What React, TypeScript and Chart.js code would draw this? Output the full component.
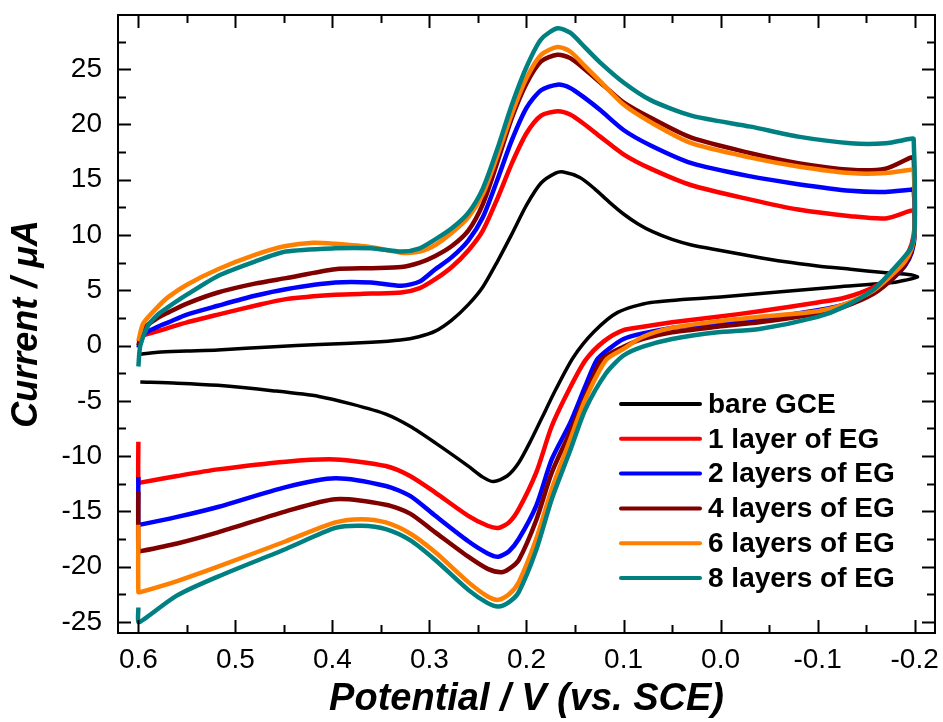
import React, { useEffect, useRef } from "react";
import { Chart, registerables } from "chart.js";

Chart.register(...registerables);

type Pt = [number, number];

const seriesLabels = ["bare GCE", "1 layer of EG", "2 layers of EG", "4 layers of EG", "6 layers of EG", "8 layers of EG"];
const seriesColors = ["#000000", "#FF0000", "#0000FF", "#800000", "#FF8000", "#008080"];

const bareGCE: Pt[] = [
  [0.6, -0.8], [0.58, -0.6], [0.55, -0.5], [0.518, -0.4], [0.46, -0.1], [0.414, 0.1], [0.36, 0.3], [0.33, 0.5],
  [0.311, 0.8], [0.294, 1.3], [0.277, 2.3], [0.26, 3.7], [0.245, 5.3], [0.23, 7.6], [0.215, 10.1], [0.2, 12.7],
  [0.185, 14.7], [0.17, 15.6], [0.162, 15.7], [0.145, 15.2], [0.13, 14.2], [0.115, 13.0], [0.1, 11.9], [0.085, 11.0],
  [0.07, 10.3], [0.05, 9.6], [0.03, 9.1], [0.0, 8.6], [-0.031, 8.1], [-0.065, 7.6], [-0.1, 7.2], [-0.134, 6.9],
  [-0.168, 6.6], [-0.196, 6.4], [-0.203, 6.2],
  [-0.19, 5.9], [-0.178, 5.7], [-0.12, 5.3], [-0.065, 4.9], [0.0, 4.4], [0.072, 3.9], [0.106, 3.0], [0.131, 1.2],
  [0.152, -1.1], [0.17, -4.0], [0.18, -5.8], [0.195, -8.5], [0.208, -10.6], [0.22, -11.8], [0.234, -12.3],
  [0.245, -11.9], [0.26, -10.9], [0.294, -8.8], [0.32, -7.3], [0.345, -6.2], [0.38, -5.3], [0.414, -4.6],
  [0.46, -4.1], [0.518, -3.6], [0.56, -3.4], [0.598, -3.3],
];

const layer1: Pt[] = [
  [0.6, 0.3], [0.595, 0.9], [0.58, 1.3], [0.569, 1.6], [0.55, 2.1], [0.518, 2.8], [0.48, 3.6], [0.448, 4.2],
  [0.397, 4.6], [0.36, 4.7], [0.329, 4.8], [0.31, 5.2], [0.294, 6.0], [0.277, 7.1], [0.26, 8.6], [0.245, 10.4],
  [0.23, 13.3], [0.215, 16.5], [0.2, 19.2], [0.185, 20.8], [0.168, 21.2], [0.155, 20.9], [0.14, 20.0],
  [0.124, 18.9], [0.1, 17.3], [0.072, 16.0], [0.03, 14.5], [-0.031, 13.2], [-0.08, 12.3], [-0.134, 11.7],
  [-0.17, 11.5], [-0.196, 12.2], [-0.199, 12.2], [-0.2, 10.8],
  [-0.197, 9.2], [-0.19, 7.9], [-0.178, 6.6], [-0.158, 5.3], [-0.127, 4.3], [-0.1, 3.9], [-0.04, 3.1],
  [0.003, 2.6], [0.05, 2.1], [0.08, 1.7], [0.1, 1.4], [0.12, 0.4], [0.139, -1.3], [0.155, -3.8], [0.174, -7.3],
  [0.19, -11.5], [0.208, -14.8], [0.218, -16.0], [0.229, -16.5], [0.24, -16.3], [0.26, -15.4], [0.294, -13.3],
  [0.32, -11.8], [0.345, -10.9], [0.397, -10.3], [0.448, -10.5], [0.518, -11.2], [0.56, -11.8], [0.598, -12.4],
  [0.6, -12.4], [0.6, -8.7],
];

const layer2: Pt[] = [
  [0.6, -0.2], [0.595, 1.0], [0.58, 1.7], [0.569, 2.1], [0.55, 2.8], [0.518, 3.6], [0.48, 4.5], [0.448, 5.1],
  [0.397, 5.7], [0.36, 5.7], [0.329, 5.4], [0.31, 5.8], [0.294, 6.9], [0.277, 8.0], [0.26, 9.5], [0.245, 11.6],
  [0.23, 15.0], [0.215, 18.6], [0.2, 21.5], [0.185, 23.1], [0.168, 23.6], [0.155, 23.3], [0.14, 22.4],
  [0.124, 21.3], [0.1, 19.5], [0.072, 18.1], [0.03, 16.5], [-0.031, 15.3], [-0.08, 14.6], [-0.134, 14.0],
  [-0.17, 13.9], [-0.196, 14.1], [-0.199, 14.1], [-0.2, 10.0],
  [-0.197, 8.4], [-0.19, 7.2], [-0.178, 6.1], [-0.158, 4.8], [-0.127, 3.7], [-0.1, 3.2], [-0.04, 2.4],
  [0.003, 2.0], [0.05, 1.6], [0.08, 1.1], [0.1, 0.6], [0.115, -0.3], [0.1275, -1.3], [0.1395, -3.7], [0.155, -7.0],
  [0.174, -10.3], [0.19, -14.5], [0.208, -17.5], [0.218, -18.6], [0.229, -19.1], [0.24, -18.8], [0.26, -17.7],
  [0.294, -15.4], [0.32, -13.6], [0.345, -12.7], [0.397, -12.0], [0.448, -12.8], [0.518, -14.6], [0.56, -15.5],
  [0.598, -16.2], [0.6, -16.2], [0.6, -11.9],
];

const layer4: Pt[] = [
  [0.6, 0.0], [0.595, 1.5], [0.58, 2.5], [0.569, 3.0], [0.55, 3.8], [0.518, 4.8], [0.48, 5.6], [0.448, 6.1],
  [0.397, 6.9], [0.36, 7.0], [0.329, 7.1], [0.31, 7.5], [0.294, 8.1], [0.277, 9.0], [0.26, 10.4], [0.245, 12.8],
  [0.23, 16.6], [0.215, 20.6], [0.2, 23.7], [0.185, 25.7], [0.168, 26.3], [0.155, 26.0], [0.14, 25.0],
  [0.124, 23.8], [0.1, 22.0], [0.072, 20.6], [0.03, 18.8], [-0.031, 17.4], [-0.08, 16.5], [-0.134, 15.9],
  [-0.17, 16.0], [-0.196, 17.0], [-0.199, 17.0], [-0.2, 10.2],
  [-0.197, 8.6], [-0.19, 7.3], [-0.178, 6.1], [-0.158, 4.7], [-0.127, 3.5], [-0.1, 2.9], [-0.04, 2.1],
  [0.003, 1.7], [0.05, 1.2], [0.08, 0.6], [0.1, -0.1], [0.1227, -1.3], [0.1395, -4.6], [0.155, -7.8],
  [0.174, -11.5], [0.19, -15.8], [0.208, -19.4], [0.218, -20.2], [0.226, -20.5], [0.24, -20.2], [0.26, -19.1],
  [0.294, -16.9], [0.32, -15.2], [0.345, -14.4], [0.397, -13.9], [0.448, -15.0], [0.518, -16.9], [0.56, -17.9],
  [0.598, -18.6], [0.6, -18.6], [0.6, -13.2],
];

const layer6: Pt[] = [
  [0.6, 0.4], [0.595, 2.0], [0.58, 3.5], [0.569, 4.4], [0.55, 5.5], [0.518, 6.9], [0.48, 8.2], [0.448, 9.0],
  [0.42, 9.3], [0.397, 9.2], [0.36, 8.9], [0.329, 8.4], [0.31, 8.5], [0.294, 9.1], [0.277, 10.2], [0.26, 11.6],
  [0.245, 13.7], [0.23, 17.2], [0.215, 21.0], [0.2, 24.2], [0.185, 26.3], [0.168, 27.0], [0.155, 26.6],
  [0.14, 25.3], [0.124, 23.9], [0.1, 21.8], [0.072, 20.2], [0.03, 18.3], [-0.031, 17.0], [-0.08, 16.2],
  [-0.134, 15.6], [-0.17, 15.6], [-0.196, 15.9], [-0.199, 15.9], [-0.2, 10.4],
  [-0.197, 8.8], [-0.19, 7.6], [-0.178, 6.5], [-0.158, 5.0], [-0.127, 3.7], [-0.1, 3.1], [-0.04, 2.6],
  [0.003, 2.2], [0.05, 1.6], [0.08, 0.8], [0.1, -0.3], [0.118, -1.3], [0.1395, -4.9], [0.155, -8.5],
  [0.174, -13.0], [0.19, -17.5], [0.208, -21.4], [0.218, -22.5], [0.229, -23.0], [0.24, -22.7], [0.26, -21.4],
  [0.294, -18.7], [0.32, -17.0], [0.345, -16.0], [0.37, -15.7], [0.397, -16.0], [0.448, -17.7], [0.518, -20.0],
  [0.56, -21.3], [0.598, -22.3], [0.6, -22.3], [0.6, -16.2],
];

const layer8: Pt[] = [
  [0.6, -1.9], [0.598, 0.0], [0.59, 1.8], [0.58, 2.8], [0.569, 3.5], [0.55, 4.6], [0.518, 6.3], [0.48, 7.6],
  [0.448, 8.5], [0.397, 8.8], [0.36, 8.8], [0.329, 8.5], [0.31, 8.8], [0.294, 9.6], [0.277, 10.6], [0.26, 12.0],
  [0.245, 14.2], [0.23, 17.8], [0.215, 21.8], [0.2, 25.2], [0.185, 27.7], [0.168, 28.7], [0.155, 28.3],
  [0.14, 27.0], [0.124, 25.6], [0.1, 23.8], [0.072, 22.2], [0.03, 20.8], [-0.031, 19.8], [-0.08, 18.9],
  [-0.134, 18.3], [-0.17, 18.3], [-0.196, 18.7], [-0.199, 18.7], [-0.2, 10.5],
  [-0.197, 9.0], [-0.193, 8.4], [-0.178, 6.9], [-0.158, 5.1], [-0.127, 3.5], [-0.1, 2.6], [-0.04, 1.5],
  [0.003, 1.2], [0.05, 0.6], [0.08, -0.1], [0.1, -0.9], [0.118, -2.5], [0.1395, -5.8], [0.155, -9.5],
  [0.174, -13.9], [0.19, -18.5], [0.208, -22.3], [0.218, -23.2], [0.229, -23.6], [0.24, -23.3], [0.26, -22.1],
  [0.294, -19.4], [0.32, -17.6], [0.345, -16.6], [0.37, -16.3], [0.397, -16.5], [0.448, -18.4], [0.518, -20.9],
  [0.56, -22.6], [0.595, -24.8], [0.6, -25.0], [0.6, -23.7],
];

const seriesData: Pt[][] = [bareGCE, layer1, layer2, layer4, layer6, layer8];

const xTickValues = [0.6, 0.5, 0.4, 0.3, 0.2, 0.1, 0.0, -0.1, -0.2];
const xMinorTickValues = [0.55, 0.45, 0.35, 0.25, 0.15, 0.05, -0.05, -0.15];
const yTickValues = [-25, -20, -15, -10, -5, 0, 5, 10, 15, 20, 25];
const yMinorTickValues = [-22.5, -17.5, -12.5, -7.5, -2.5, 2.5, 7.5, 12.5, 17.5, 22.5, 27.5];

const FONT = "'Liberation Sans', Arial, sans-serif";

const framePlugin = {
  id: "frameTicks",
  afterDatasetsDraw(chart: any) {
    const { ctx, chartArea, scales } = chart;
    const { left, right, top, bottom } = chartArea;
    const xs = scales.x;
    const ys = scales.y;
    ctx.save();
    ctx.strokeStyle = "#000";
    ctx.lineWidth = 2;
    ctx.strokeRect(left, top, right - left, bottom - top);
    const drawX = (vals: number[], len: number) => {
      vals.forEach((v) => {
        const px = Math.round(xs.getPixelForValue(v)) + 0.5;
        ctx.beginPath();
        ctx.moveTo(px, bottom);
        ctx.lineTo(px, bottom - len);
        ctx.moveTo(px, top);
        ctx.lineTo(px, top + len);
        ctx.stroke();
      });
    };
    const drawY = (vals: number[], len: number) => {
      vals.forEach((v) => {
        const py = Math.round(ys.getPixelForValue(v)) + 0.5;
        ctx.beginPath();
        ctx.moveTo(left, py);
        ctx.lineTo(left + len, py);
        ctx.moveTo(right, py);
        ctx.lineTo(right - len, py);
        ctx.stroke();
      });
    };
    drawX(xTickValues, 13);
    drawX(xMinorTickValues, 8);
    drawY(yTickValues, 13);
    drawY(yMinorTickValues, 8);
    ctx.restore();
  },
  afterDraw(chart: any) {
    const { ctx, chartArea } = chart;
    const x0 = chartArea.right - 314;
    const x1 = chartArea.right - 235;
    const tx = chartArea.right - 227;
    const y0 = chartArea.top + 389;
    const step = 34.8;
    ctx.save();
    ctx.font = `bold 28px ${FONT}`;
    ctx.textBaseline = "middle";
    ctx.textAlign = "left";
    chart.data.datasets.forEach((ds: any, i: number) => {
      const y = y0 + i * step;
      ctx.strokeStyle = ds.borderColor;
      ctx.lineWidth = 4;
      ctx.lineCap = "round";
      ctx.beginPath();
      ctx.moveTo(x0, y);
      ctx.lineTo(x1, y);
      ctx.stroke();
      ctx.fillStyle = "#000";
      ctx.fillText(ds.label, tx, y + 1);
    });
    ctx.restore();
  },
};

export default function App() {
  const canvasRef = useRef<HTMLCanvasElement | null>(null);

  useEffect(() => {
    if (!canvasRef.current) return;
    const datasets = seriesData.map((pts, i) => ({
      label: seriesLabels[i],
      data: pts.map(([x, y]) => ({ x, y })),
      borderColor: seriesColors[i],
      backgroundColor: seriesColors[i],
      borderWidth: i === 0 ? 3.5 : 4.5,
      showLine: true,
      pointRadius: 0,
      tension: 0.25,
      fill: false,
      order: seriesData.length - i,
    }));
    const chart = new Chart(canvasRef.current, {
      type: "scatter",
      data: { datasets },
      options: {
        animation: false,
        responsive: false,
        devicePixelRatio: 1,
        layout: { padding: { left: 0, top: 15, right: 8, bottom: 0 } },
        plugins: { legend: { display: false }, tooltip: { enabled: false } },
        scales: {
          x: {
            type: "linear",
            reverse: true,
            min: -0.221,
            max: 0.621,
            afterBuildTicks: (s: any) => {
              s.ticks = xTickValues.map((v) => ({ value: v }));
            },
            afterFit: (s: any) => {
              s.height = 89;
              s.paddingLeft = 0;
              s.paddingRight = 0;
              s.paddingTop = 0;
              s.paddingBottom = 0;
            },
            ticks: {
              callback: (v: any) => Number(v).toFixed(1),
              color: "#000",
              font: { family: FONT, size: 28 },
              padding: 10,
              maxRotation: 0,
              autoSkip: false,
            },
            grid: { display: false, drawTicks: false },
            border: { display: false },
            title: {
              display: true,
              text: "Potential / V (vs. SCE)",
              color: "#000",
              font: { family: FONT, size: 38, weight: "bold", style: "italic" },
              padding: { top: 0, bottom: 0 },
            },
          },
          y: {
            type: "linear",
            min: -26,
            max: 29.9,
            afterBuildTicks: (s: any) => {
              s.ticks = yTickValues.map((v) => ({ value: v }));
            },
            afterFit: (s: any) => {
              s.width = 118;
              s.paddingLeft = 0;
              s.paddingRight = 0;
              s.paddingTop = 0;
              s.paddingBottom = 0;
            },
            ticks: {
              callback: (v: any) => String(v),
              color: "#000",
              font: { family: FONT, size: 28 },
              padding: 16,
              autoSkip: false,
            },
            grid: { display: false, drawTicks: false },
            border: { display: false },
            title: {
              display: true,
              text: "Current / \u03BCA",
              color: "#000",
              font: { family: FONT, size: 36, weight: "bold", style: "italic" },
              padding: { top: 5, bottom: 0 },
            },
          },
        },
      },
      plugins: [framePlugin],
    } as any);
    return () => chart.destroy();
  }, []);

  return (
    <div style={{ position: "absolute", left: 0, top: 0, width: 943, height: 722, background: "#fff" }}>
      <canvas ref={canvasRef} width={943} height={722} style={{ display: "block" }} />
    </div>
  );
}
